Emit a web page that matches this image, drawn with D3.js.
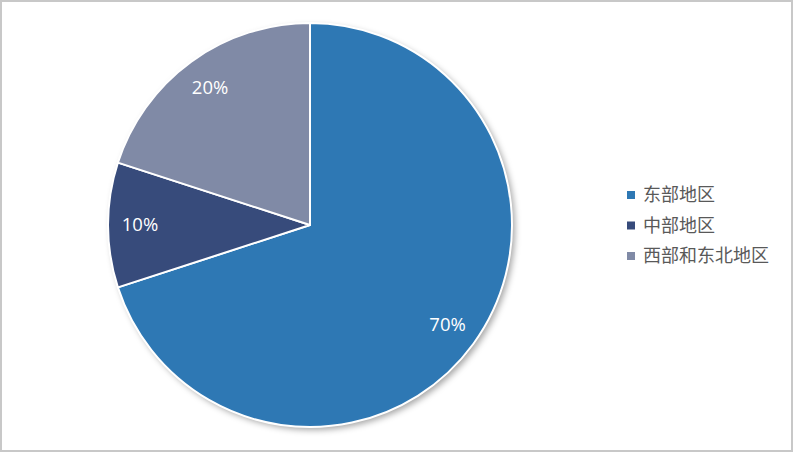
<!DOCTYPE html>
<html>
<head>
<meta charset="utf-8">
<script src="https://cdn.jsdelivr.net/npm/d3@7"></script>
<style>
  body { margin: 0; background: #fff; }
</style>
</head>
<body>
<div id="chart"></div>
<script>
var categories = ["东部地区", "中部地区", "西部和东北地区"];
var values = [70, 10, 20];
var colors = ["#2E78B4", "#374B7B", "#808AA6"];

var width = 794, height = 465;
var cx = 310, cy = 225, radius = 202;

var svg = d3.select("#chart")
  .append("svg")
  .attr("width", width)
  .attr("height", height);

// chart frame
svg.append("rect")
  .attr("x", 1).attr("y", 1)
  .attr("width", 791).attr("height", 450)
  .attr("fill", "#fff")
  .attr("stroke", "#c8c8c8")
  .attr("stroke-width", 2);

var defs = svg.append("defs");
var filter = defs.append("filter")
  .attr("id", "shadow")
  .attr("x", "-10%").attr("y", "-10%")
  .attr("width", "130%").attr("height", "130%");
filter.append("feDropShadow")
  .attr("dx", 3).attr("dy", 3)
  .attr("stdDeviation", 3)
  .attr("flood-color", "#000")
  .attr("flood-opacity", 0.35);

var pie = d3.pie().sort(null).value(function(d) { return d; });
var arcs = pie(values);

var arc = d3.arc().innerRadius(0).outerRadius(radius);
var labelArc = d3.arc().innerRadius(170).outerRadius(170);

var g = svg.append("g")
  .attr("transform", "translate(" + cx + "," + cy + ")");

// shadow under the whole pie
g.append("circle")
  .attr("r", radius)
  .attr("fill", "#fff")
  .attr("filter", "url(#shadow)");

g.selectAll(".slice")
  .data(arcs).enter().append("path")
    .attr("class", "slice")
    .attr("d", arc)
    .attr("fill", function(d, i) { return colors[i]; })
    .attr("stroke", "#fff")
    .attr("stroke-width", 2)
    .attr("stroke-linejoin", "round");

g.selectAll(".label")
  .data(arcs).enter().append("text")
    .attr("class", "label")
    .attr("transform", function(d) { return "translate(" + labelArc.centroid(d) + ")"; })
    .attr("text-anchor", "middle")
    .attr("dy", "0.35em")
    .attr("fill", "#fff")
    .style("font-family", "'Open Sans', 'Liberation Sans', sans-serif")
    .style("font-size", "18.5px")
    .text(function(d) { return d.data + "%"; });

// legend
var legend = svg.append("g")
  .attr("transform", "translate(627,195)");

var item = legend.selectAll(".item")
  .data(categories).enter().append("g")
    .attr("class", "item")
    .attr("transform", function(d, i) { return "translate(0," + (i * 30.5) + ")"; });

item.append("rect")
  .attr("x", 0).attr("y", -4)
  .attr("width", 8).attr("height", 8)
  .attr("fill", function(d, i) { return colors[i]; });

item.append("text")
  .attr("x", 16)
  .attr("dy", "0.35em")
  .attr("fill", "#595959")
  .style("font-family", "'Noto Sans CJK SC', sans-serif")
  .style("font-size", "18px")
  .text(function(d) { return d; });
</script>
</body>
</html>
